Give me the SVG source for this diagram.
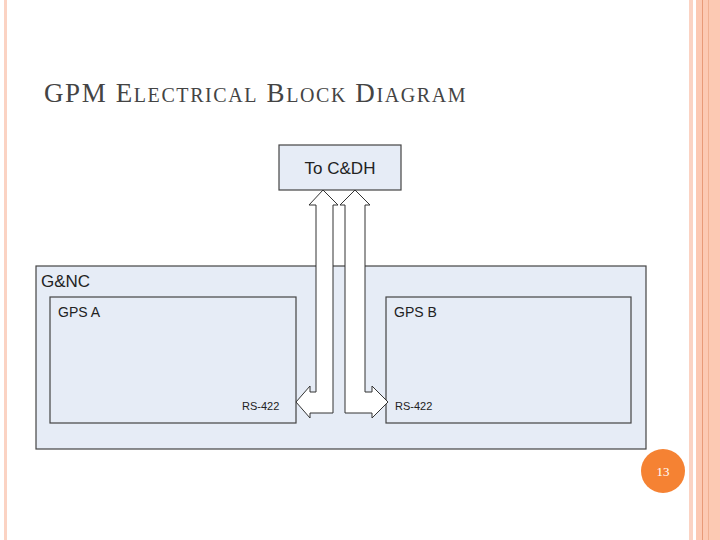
<svg xmlns="http://www.w3.org/2000/svg" width="720" height="540" viewBox="0 0 720 540">
<style>
.box{fill:#e6ecf6;stroke:#444;stroke-width:1.2}
.arr{fill:#fff;stroke:#333;stroke-width:1}
.t{font-family:"Liberation Sans",Arial,sans-serif;fill:#222}
</style>
<rect width="720" height="540" fill="#fff"/>
<rect x="4" y="0" width="3" height="540" fill="#fbd3c3"/>
<rect x="689" y="0" width="4" height="540" fill="#fbd3c3"/>
<rect x="696" y="0" width="24" height="540" fill="#fcc9b3"/>
<rect x="702" y="0" width="1" height="540" fill="#e89a78"/>
<rect x="708" y="0" width="1" height="540" fill="#f0b092"/>
<text x="44" y="102" font-family="Liberation Serif,serif" fill="#444" font-size="27" letter-spacing="1.6">GPM E<tspan font-size="20">LECTRICAL</tspan> B<tspan font-size="20">LOCK</tspan> D<tspan font-size="20">IAGRAM</tspan></text>
<g id="cdh"><rect class="box" x="279" y="145" width="122" height="45"/><text class="t" x="340" y="174" font-size="17" text-anchor="middle">To C&amp;DH</text></g>
<g id="gnc"><rect class="box" x="36" y="266" width="610" height="183"/><text class="t" x="41" y="287" font-size="17">G&amp;NC</text></g>
<g id="gpsa"><rect class="box" x="50" y="297" width="246" height="126"/><text class="t" x="58" y="317" font-size="14">GPS A</text><text class="t" x="242" y="410" font-size="11">RS-422</text></g>
<g id="gpsb"><rect class="box" x="386" y="297" width="245" height="126"/><text class="t" x="394" y="317" font-size="14">GPS B</text><text class="t" x="395" y="410" font-size="11">RS-422</text></g>
<g id="connectors">
<path class="arr" d="M316,205 L309,205 L323,190 L338,205 L333,205 L333,413 L310,413 L310,418 L296,402 L310,386 L310,392 L316,392 Z"/>
<path class="arr" d="M345,205 L340,205 L355,190 L370,205 L365,205 L365,392 L372,392 L372,386 L388,402 L372,418 L372,413 L345,413 Z"/>
</g>
<g id="page"><circle cx="663" cy="471" r="22" fill="#f58233"/><text x="663" y="476" font-family="Liberation Serif,serif" font-size="13" fill="#fff" text-anchor="middle">13</text></g>
</svg>
